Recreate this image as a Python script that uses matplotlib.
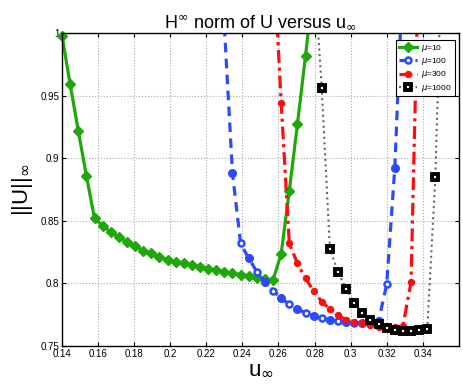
# H-infinity norm of U versus u_inf
import matplotlib
matplotlib.use('Agg')
import matplotlib.pyplot as plt
import numpy as np
from matplotlib.ticker import FormatStrFormatter

plt.rcParams['font.family'] = ['Liberation Sans', 'DejaVu Sans']

# grid of u_inf values (step 0.0045)
u_grid = [round(0.14 + 0.0045 * k, 4) for k in range(48)]

# mu = 10  (k = 0..31)
k10 = list(range(0, 32))
y10 = [0.998, 0.959, 0.922, 0.886, 0.852, 0.846, 0.841, 0.837, 0.833, 0.830,
       0.826, 0.824, 0.821, 0.819, 0.8175, 0.816, 0.8147, 0.8134, 0.8118, 0.8105,
       0.8091, 0.808, 0.807, 0.806, 0.8046, 0.8035, 0.8027, 0.8237, 0.874, 0.927,
       0.982, 1.04]

# mu = 100 (k = 20..42)
k100 = list(range(20, 43))
y100 = [1.005, 0.888, 0.832, 0.820, 0.8094, 0.801, 0.794, 0.788, 0.7835, 0.7796,
        0.7765, 0.7741, 0.772, 0.7706, 0.7696, 0.7689, 0.7684, 0.7686, 0.769, 0.770,
        0.7993, 0.8925, 1.05]

# mu = 300 (k = 26..44)
k300 = list(range(26, 45))
y300 = [1.07, 0.944, 0.832, 0.816, 0.804, 0.794, 0.7855, 0.7795, 0.7745, 0.771,
        0.769, 0.768, 0.7665, 0.7655, 0.765, 0.765, 0.766, 0.801, 1.08]

# mu = 1000 (k = 31..47)
k1000 = list(range(31, 48))
y1000 = [1.055, 0.956, 0.8277, 0.809, 0.7955, 0.7846, 0.7766, 0.7708, 0.7673, 0.7641,
         0.7628, 0.7622, 0.7622, 0.7628, 0.7636, 0.8847, 1.12]

labels = [r'$\mu$=10', r'$\mu$=100', r'$\mu$=300', r'$\mu$=1000']

green = '#1fa80a'
blue = '#2a4bff'
red = '#ff0d0d'

fig = plt.figure(figsize=(4.63, 3.89), dpi=100)
ax = fig.add_axes([0.134, 0.1105, 0.857, 0.8045])

ymin, ymax = 0.75, 1.0


def xs(ks):
    return np.array([u_grid[k] for k in ks])


def inside(x, y):
    y = np.array(y)
    m = (y >= ymin - 1e-9) & (y <= ymax + 1e-9)
    return x[m], y[m]


# mu = 10
x = xs(k10)
ax.plot(x, y10, '-', color=green, lw=2.3, zorder=2)
xi, yi = inside(x, y10)
ax.plot(xi, yi, 'D', color=green, ms=5, mec=green, clip_on=False, zorder=2)
h1, = ax.plot([], [], '-D', color=green, lw=2.3, ms=5)

# mu = 100, alternating filled / hollow circles
x = xs(k100)
ax.plot(x, y100, '--', color=blue, lw=2.3, dashes=(3, 2), zorder=2)
xi, yi = inside(x, y100)
ki = np.array([k for k, v in zip(k100, y100) if ymin <= v <= ymax])
odd = ki % 2 == 1
ax.plot(xi[odd], yi[odd], 'o', color=blue, ms=5.5, mec=blue, clip_on=False, zorder=2)
ax.plot(xi[~odd], yi[~odd], 'o', color=blue, ms=4.3, mfc='white', mec=blue, mew=1.8,
        clip_on=False, zorder=2)
h2, = ax.plot([], [], '--o', color=blue, lw=2.3, ms=4.3, mfc='white', mec=blue, mew=1.8,
              dashes=(3, 2))

# mu = 300
x = xs(k300)
ax.plot(x, y300, '-.', color=red, lw=2.3, dashes=(4, 1.5, 1, 1.5), zorder=2)
xi, yi = inside(x, y300)
ax.plot(xi, yi, 'o', color=red, ms=4.3, mec=red, clip_on=False, zorder=2)
h3, = ax.plot([], [], '-.o', color=red, lw=2.3, ms=4.3, dashes=(4, 1.5, 1, 1.5))

# mu = 1000
x = xs(k1000)
ax.plot(x, y1000, ':', color='#666666', lw=1.5, zorder=2)
xi, yi = inside(x, y1000)
ax.plot(xi, yi, 's', color='black', ms=4.2, mfc='white', mec='black', mew=2.8,
        clip_on=False, zorder=2)
h4, = ax.plot([], [], ':s', color='#666666', lw=1.5, ms=4.2, mfc='white', mec='black', mew=2.8)

ax.set_xlim(0.14, 0.36)
ax.set_ylim(ymin, ymax)
ax.set_xticks(np.arange(0.14, 0.3401, 0.02))
ax.set_yticks([0.75, 0.8, 0.85, 0.9, 0.95, 1.0])
ax.xaxis.set_major_formatter(FormatStrFormatter('%g'))
ax.yaxis.set_major_formatter(FormatStrFormatter('%g'))
ax.tick_params(direction='in', labelsize=7, length=3, top=True, right=True, pad=2)
ax.grid(True, linestyle=':', color='#aaaaaa', lw=0.8)
for s in ax.spines.values():
    s.set_linewidth(1.0)

ax.set_title(r'H$^{\infty}$ norm of U versus u$_{\infty}$', fontsize=13, pad=4)
ax.set_xlabel(r'u$_{\infty}$', fontsize=16, labelpad=0)
ax.set_ylabel(r'||U||$_{\infty}$', fontsize=16, labelpad=4)

leg = ax.legend([h1, h2, h3, h4], labels, loc='upper right', fontsize=6,
                fancybox=False, framealpha=1, edgecolor='black',
                handlelength=2.2, handletextpad=0.5, borderpad=0.35, labelspacing=0.25,
                bbox_to_anchor=(1.0, 0.99))
leg.get_frame().set_linewidth(0.8)

fig.savefig('out.png', dpi=100)
